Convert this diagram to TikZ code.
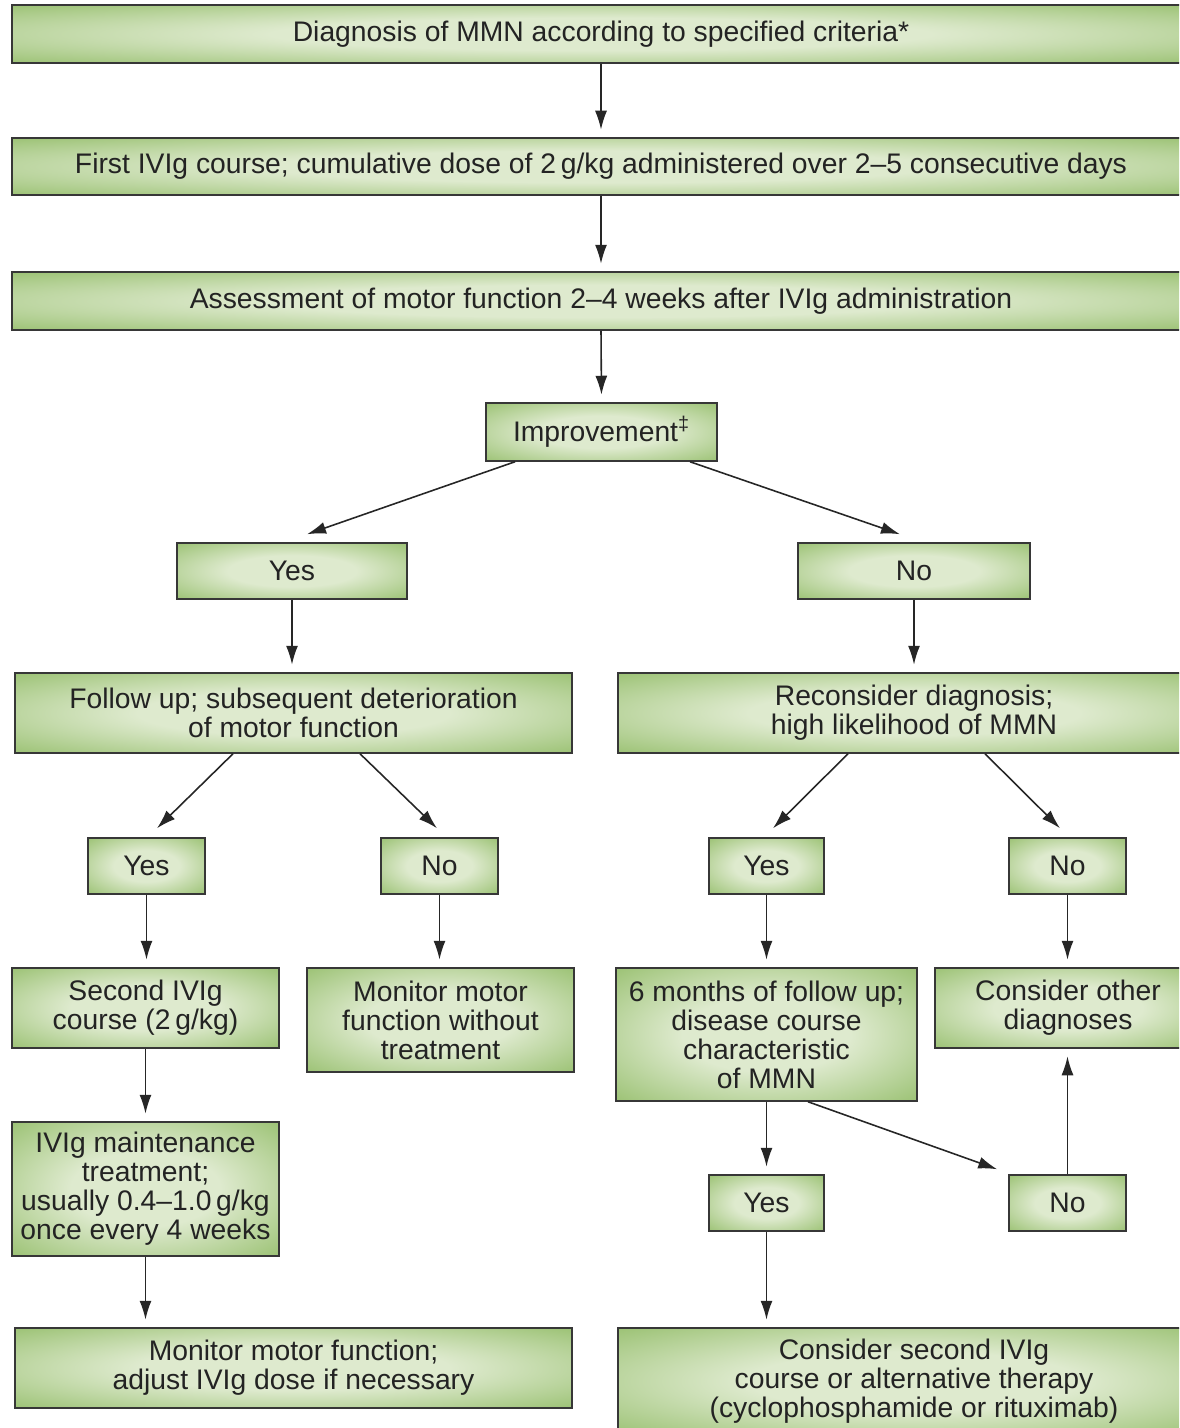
\documentclass[tikz,border=0pt]{standalone}
\usepackage{fontspec}
\setmainfont{Liberation Sans}
\usepackage{tikz}
\usetikzlibrary{arrows.meta,calc}

\definecolor{boxgreen}{RGB}{139,184,94}
\definecolor{glowc}{RGB}{222,234,206}
\definecolor{boxline}{RGB}{55,55,55}
\definecolor{textgray}{RGB}{35,35,35}

\pgfdeclareradialshading{boxglow}{\pgfpoint{0cm}{0cm}}{color(0bp)=(glowc); color(14bp)=(glowc); color(41bp)=(boxgreen); color(50bp)=(boxgreen)}

\tikzset{
  flowbox/.style={draw=boxline, line width=0.85pt, shading=boxglow, align=center,
    text=textgray, inner sep=2pt, font=\fontsize{16.1}{16.5}\selectfont},
  flowarrow/.style={->, line width=0.9pt, draw=black!85},
  stub/.style={shorten >=0.15cm},
}

\begin{document}
\begin{tikzpicture}[>={Latex[length=0.38cm,width=0.24cm]}]
\useasboundingbox (0,0) rectangle (23.58,-28.56);
\clip (0,0) rectangle (23.58,-28.56);

% top row
\node[flowbox, minimum width=23.56cm, minimum height=1.16cm] (diag) at (12.02,-0.68) {Diagnosis of MMN according to specified criteria*};
\node[flowbox, minimum width=23.56cm, minimum height=1.14cm] (ivig) at (12.02,-3.33) {First IVIg course; cumulative dose of 2\,g/kg administered over 2--5 consecutive days};
\node[flowbox, minimum width=23.56cm, minimum height=1.16cm] (assess) at (12.02,-6.02) {Assessment of motor function 2--4 weeks after IVIg administration};
\node[flowbox, minimum width=4.62cm, minimum height=1.16cm] (impr) at (12.03,-8.64) {Improvement\textsuperscript{‡}};

% first answer
\node[flowbox, minimum width=4.60cm, minimum height=1.12cm] (yes1) at (5.84,-11.42) {Yes};
\node[flowbox, minimum width=4.64cm, minimum height=1.12cm] (no1) at (18.28,-11.42) {No};
\node[flowbox, minimum width=11.14cm, minimum height=1.60cm] (follow) at (5.87,-14.26) {Follow up; subsequent deterioration\\of motor function};
\node[flowbox, minimum width=11.84cm, minimum height=1.60cm] (recon) at (18.28,-14.26) {Reconsider diagnosis;\\high likelihood of MMN};

% second answer
\node[flowbox, minimum width=2.34cm, minimum height=1.12cm] (yes2) at (2.93,-17.32) {Yes};
\node[flowbox, minimum width=2.34cm, minimum height=1.12cm] (no2) at (8.79,-17.32) {No};
\node[flowbox, minimum width=2.30cm, minimum height=1.12cm] (yes3) at (15.33,-17.32) {Yes};
\node[flowbox, minimum width=2.34cm, minimum height=1.12cm] (no3) at (21.35,-17.32) {No};

\node[flowbox, minimum width=5.34cm, minimum height=1.60cm] (second) at (2.91,-20.16) {Second IVIg\\course (2\,g/kg)};
\node[flowbox, minimum width=5.34cm, minimum height=2.08cm] (monitor) at (8.81,-20.40) {Monitor motor\\function without\\treatment};
\node[flowbox, minimum width=6.02cm, minimum height=2.66cm] (months) at (15.33,-20.69) {6 months of follow up;\\disease course\\characteristic\\of MMN};
\node[flowbox, minimum width=5.32cm, minimum height=1.60cm] (other) at (21.36,-20.16) {Consider other\\diagnoses};

% bottom part
\node[flowbox, minimum width=5.34cm, minimum height=2.68cm] (maint) at (2.91,-23.78) {IVIg maintenance\\treatment;\\usually 0.4--1.0\,g/kg\\once every 4 weeks};
\node[flowbox, minimum width=2.30cm, minimum height=1.12cm] (yes4) at (15.33,-24.06) {Yes};
\node[flowbox, minimum width=2.34cm, minimum height=1.12cm] (no4) at (21.35,-24.06) {No};
\node[flowbox, minimum width=11.14cm, minimum height=1.60cm] (adjust) at (5.87,-27.36) {Monitor motor function;\\adjust IVIg dose if necessary};
\node[flowbox, minimum width=11.84cm, minimum height=2.12cm] (alt) at (18.28,-27.62) {Consider second IVIg\\course or alternative therapy\\(cyclophosphamide or rituximab)};

% arrows
\draw[flowarrow, stub] (diag.south) -- (ivig.north);
\draw[flowarrow, stub] (ivig.south) -- (assess.north);
\draw[flowarrow, stub] (assess.south) -- (impr.north);
\draw[flowarrow] ([xshift=-1.73cm]impr.south) -- ([xshift=0.30cm,yshift=0.16cm]yes1.north);
\draw[flowarrow] ([xshift=1.77cm]impr.south) -- ([xshift=-0.28cm,yshift=0.16cm]no1.north);
\draw[flowarrow, stub] (yes1.south) -- (yes1.south |- follow.north);
\draw[flowarrow, stub] (no1.south) -- (recon.north);

\draw[flowarrow] ([xshift=-1.21cm]follow.south) -- ([xshift=0.21cm,yshift=0.18cm]yes2.north);
\draw[flowarrow] ([xshift=1.33cm]follow.south) -- ([xshift=-0.05cm,yshift=0.18cm]no2.north);
\draw[flowarrow] ([xshift=-1.32cm]recon.south) -- ([xshift=0.13cm,yshift=0.18cm]yes3.north);
\draw[flowarrow] ([xshift=1.42cm]recon.south) -- ([xshift=-0.15cm,yshift=0.18cm]no3.north);

\draw[flowarrow, stub] (yes2.south) -- (yes2.south |- second.north);
\draw[flowarrow, stub] (no2.south) -- (no2.south |- monitor.north);
\draw[flowarrow, stub] (yes3.south) -- (months.north);
\draw[flowarrow, stub] (no3.south) -- (no3.south |- other.north);

\draw[flowarrow, stub] (second.south) -- (maint.north);
\draw[flowarrow, stub] (maint.south) -- (maint.south |- adjust.north);
\draw[flowarrow, stub] (months.south) -- (yes4.north);
\draw[flowarrow] ([xshift=0.83cm]months.south) -- ([xshift=-0.22cm,yshift=0.10cm]no4.north west);
\draw[flowarrow, stub] (no4.north) -- (no4.north |- other.south);
\draw[flowarrow, stub] (yes4.south) -- (yes4.south |- alt.north);

\end{tikzpicture}
\end{document}
